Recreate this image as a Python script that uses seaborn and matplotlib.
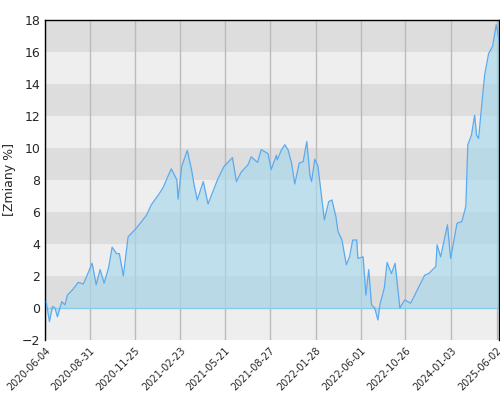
import matplotlib
matplotlib.use("Agg")
import matplotlib.pyplot as plt
import seaborn as sns
import numpy as np

sns.set_theme(style="white")
plt.rcParams['font.family'] = ['DejaVu Sans']

# trading-day index and cumulative change (%)
day = [3,11,19,25,31,42,50,56,71,83,96,108,118,128,138,148,159,168,179,186,196,208,229,254,266,286,296,308,316,330,333,342,356,367,373,381,396,408,433,448,469,479,491,508,516,532,541,558,566,579,581,
       592,600,608,617,625,636,646,655,663,675,667,683,692,699,710,718,728,733,743,754,762,770,780,783,796,803,810,817,825,833,838,849,856,867,876,888,900,915,934,950,960,978,981,990,1007,1015,1031,1043,1053,1058,1067,1075,1080,1085,1090,1100,1110,1120,1129,1138,1147,1155,1163]
value = [0.4,-0.85,0.1,0.0,-0.55,0.4,0.2,0.8,1.2,1.6,1.5,2.2,2.8,1.45,2.4,1.55,2.5,3.8,3.4,3.4,2.0,4.45,5.0,5.8,6.45,7.15,7.55,8.25,8.7,8.0,6.8,8.85,9.85,8.6,7.7,6.75,7.9,6.5,8.1,8.85,9.4,7.9,8.5,8.95,9.45,9.1,9.9,9.65,8.65,9.55,9.25,
         9.9,10.2,9.9,9.05,7.75,9.05,9.15,10.4,8.3,9.3,7.9,8.85,6.95,5.5,6.65,6.75,5.7,4.8,4.25,2.7,3.2,4.25,4.25,3.1,3.2,0.8,2.4,0.2,0.0,-0.75,0.2,1.25,2.85,2.15,2.8,0.0,0.5,0.3,1.25,2.05,2.15,2.6,3.95,3.2,5.2,3.1,5.3,5.4,6.35,10.2,10.8,12.05,10.8,10.6,11.95,14.55,15.9,16.35,17.7,16.55,15.5,17.7]
pairs = sorted(zip(day, value))
day = [p[0] for p in pairs]
value = [p[1] for p in pairs]

tick_days = [0,112,225,338,450,562,678,790,902,1017,1130]
tick_labels = ["2020-06-04","2020-08-31","2020-11-25","2021-02-23","2021-05-21","2021-08-27",
               "2022-01-28","2022-06-01","2022-10-26","2024-01-03","2025-06-02"]

fig = plt.figure(figsize=(5, 4), dpi=100)
ax = fig.add_axes([0.09, 0.15, 0.908, 0.80])
for lo in range(-2, 18, 2):
    ax.axhspan(lo, lo + 2, color="#dddddd" if lo % 4 == 0 else "#eeeeee", lw=0, zorder=0)
for t in tick_days:
    ax.axvline(t, color="#bbbbbb", lw=1, zorder=1)
ax.fill_between(day, value, 0, color="#a6d8ec", alpha=0.65, lw=0, zorder=2)
sns.lineplot(x=day, y=value, ax=ax, color="#5aaaf0", lw=0.9, zorder=3)
ax.axhline(0, color="#87cde8", lw=1, zorder=2)
ax.set_xlim(0, 1136)
ax.set_ylim(-2, 18)
ax.set_yticks(range(-2, 19, 2))
ax.set_xticks(tick_days)
ax.set_xticklabels(tick_labels, rotation=45, ha="right", rotation_mode="anchor", fontsize=7)
ax.tick_params(axis="y", labelsize=9, length=0)
ax.tick_params(axis="x", length=0, pad=4)
ax.set_ylabel("[Zmiany %]", fontsize=9)
for s in ax.spines.values():
    s.set_color("black"); s.set_linewidth(1)
ax.spines["bottom"].set_visible(False)
fig.savefig("out.png", dpi=100)
